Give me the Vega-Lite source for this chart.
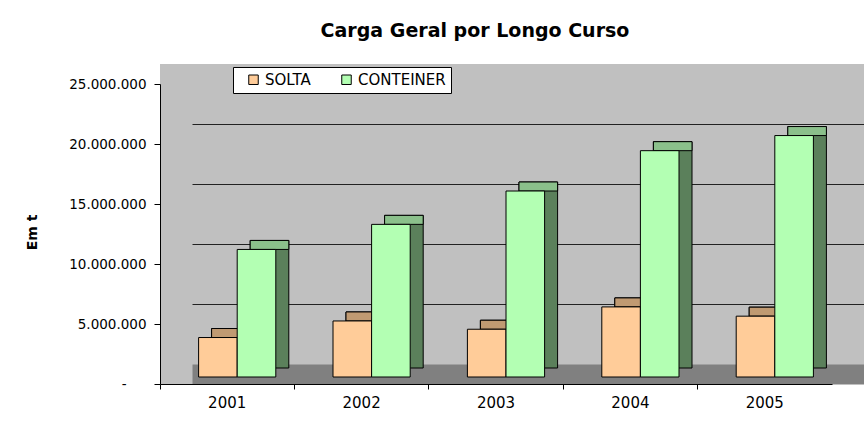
{
  "$schema": "https://vega.github.io/schema/vega-lite/v6.json",
  "width": 704,
  "height": 320,
  "autosize": {"type": "none"},
  "padding": {"left": 160, "top": 64, "right": 0, "bottom": 50},
  "background": "white",
  "title": {
    "text": "Carga Geral por Longo Curso",
    "font": "DejaVu Sans",
    "fontSize": 19,
    "fontWeight": "bold",
    "color": "black",
    "anchor": "middle",
    "frame": "group",
    "dx": -37,
    "dy": 18,
    "baseline": "alphabetic",
    "offset": 26
  },
  "config": {
    "locale": {"number": {"decimal": ",", "thousands": ".", "grouping": [3], "currency": ["R$", ""]}},
    "view": {"fill": "#c0c0c0", "stroke": null},
    "font": "DejaVu Sans"
  },
  "data": {
    "values": [
      {"ano": "2001", "serie": "SOLTA", "valor": 3290000},
      {"ano": "2002", "serie": "SOLTA", "valor": 4670000},
      {"ano": "2003", "serie": "SOLTA", "valor": 3980000},
      {"ano": "2004", "serie": "SOLTA", "valor": 5840000},
      {"ano": "2005", "serie": "SOLTA", "valor": 5070000},
      {"ano": "2001", "serie": "CONTEINER", "valor": 10630000},
      {"ano": "2002", "serie": "CONTEINER", "valor": 12720000},
      {"ano": "2003", "serie": "CONTEINER", "valor": 15500000},
      {"ano": "2004", "serie": "CONTEINER", "valor": 18860000},
      {"ano": "2005", "serie": "CONTEINER", "valor": 20120000}
    ]
  },
  "encoding": {
    "x": {
      "field": "ano",
      "type": "nominal",
      "scale": {"range": [0, 672], "paddingInner": 0, "paddingOuter": 0},
      "axis": {
        "orient": "bottom",
        "title": null,
        "bandPosition": 0,
        "labelAngle": 0,
        "labelFont": "DejaVu Sans",
        "labelFontSize": 15,
        "labelColor": "black",
        "labelPadding": 6,
        "tickColor": "black",
        "tickSize": 5,
        "domainColor": "black",
        "grid": false
      }
    },
    "y": {"field": "valor", "type": "quantitative", "axis": null,
          "scale": {"domain": [0, 25000000], "range": [320, 20], "nice": false}}
  },
  "layer": [
    {
      "transform": [{"filter": "datum.serie === 'SOLTA'"}],
      "mark": {"type": "bar", "width": 38.6, "xOffset": 3.7, "yOffset": -16, "y2Offset": -16,
               "fill": "#806040", "stroke": "black", "strokeWidth": 1}
    },
    {
      "transform": [{"filter": "datum.serie === 'SOLTA'"}],
      "mark": {"type": "bar", "width": 38.6, "xOffset": 3.7, "yOffset": -16, "y2Offset": -7,
               "fill": "#c09a72", "stroke": "black", "strokeWidth": 1},
      "encoding": {"y2": {"field": "valor"}}
    },
    {
      "transform": [{"filter": "datum.serie === 'SOLTA'"}],
      "mark": {"type": "bar", "width": 38.6, "xOffset": -9.3, "yOffset": -7, "y2Offset": -7,
               "stroke": "black", "strokeWidth": 1, "opacity": 1},
      "encoding": {
        "y": {
          "field": "valor",
          "type": "quantitative",
          "axis": {
            "orient": "left",
            "values": [0, 5000000, 10000000, 15000000, 20000000, 25000000],
            "format": ",.0f",
            "labelExpr": "datum.value === 0 ? '-' : datum.label",
            "labelFont": "DejaVu Sans",
            "labelFontSize": 13.5,
            "labelColor": "black",
            "labelPadding": {"condition": {"test": "datum.value === 0", "value": 28}, "value": 8},
            "tickColor": "black",
            "tickSize": 6,
            "domainColor": "black",
            "grid": false,
            "title": "Em t",
            "titleFont": "DejaVu Sans",
            "titleFontSize": 14,
            "titleFontWeight": "bold",
            "titleColor": "black",
            "titleAngle": 270,
            "titleAlign": "center",
            "titleBaseline": "middle",
            "titleX": -128,
            "titleY": 168
          }
        },
        "color": {
          "field": "serie",
          "type": "nominal",
          "scale": {"domain": ["SOLTA", "CONTEINER"], "range": ["#ffcc99", "#b3ffb3"]},
          "legend": {
            "orient": "none",
            "legendX": 73,
            "legendY": 3,
            "direction": "horizontal",
            "title": null,
            "fillColor": "white",
            "strokeColor": "black",
            "padding": 5,
            "cornerRadius": 0,
            "symbolType": "square",
            "symbolSize": 90,
            "symbolStrokeColor": "black",
            "symbolStrokeWidth": 1,
            "symbolOpacity": 1,
            "labelFont": "DejaVu Sans",
            "labelFontSize": 15,
            "labelColor": "black",
            "labelOffset": 4,
            "columnPadding": 20,
            "symbolOffset": 8
          }
        }
      }
    },
    {
      "transform": [{"filter": "datum.serie === 'CONTEINER'"}],
      "mark": {"type": "bar", "width": 38.6, "xOffset": 42.3, "yOffset": -16, "y2Offset": -16,
               "fill": "#5b805b", "stroke": "black", "strokeWidth": 1}
    },
    {
      "transform": [{"filter": "datum.serie === 'CONTEINER'"}],
      "mark": {"type": "bar", "width": 38.6, "xOffset": 42.3, "yOffset": -16, "y2Offset": -7,
               "fill": "#8bc08b", "stroke": "black", "strokeWidth": 1},
      "encoding": {
        "y": {
          "field": "valor",
          "type": "quantitative",
          "axis": {
            "orient": "right",
            "values": [833333, 6666667, 11666667, 16666667, 21666667],
            "grid": true,
            "gridColor": {"condition": {"test": "datum.value < 1000000", "value": "#808080"}, "value": "#222222"},
            "gridWidth": {"condition": {"test": "datum.value < 1000000", "value": 20}, "value": 1},
            "labels": false,
            "ticks": false,
            "domain": false,
            "title": null
          }
        },
        "y2": {"field": "valor"}
      }
    },
    {
      "transform": [{"filter": "datum.serie === 'CONTEINER'"}],
      "mark": {"type": "bar", "width": 38.6, "xOffset": 29.3, "yOffset": -7, "y2Offset": -7,
               "stroke": "black", "strokeWidth": 1, "opacity": 1},
      "encoding": {
        "color": {
          "field": "serie",
          "type": "nominal",
          "scale": {"domain": ["SOLTA", "CONTEINER"], "range": ["#ffcc99", "#b3ffb3"]}
        }
      }
    }
  ],
  "resolve": {"axis": {"y": "independent"}}
}
